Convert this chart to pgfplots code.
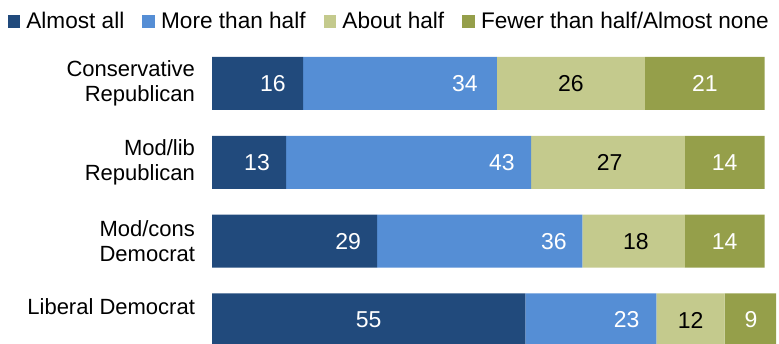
\documentclass[border=0pt]{standalone}
\usepackage{pgfplots}
\pgfplotsset{compat=1.18}
\usepackage{fontspec}
\setmainfont{Liberation Sans}
\definecolor{cNavy}{HTML}{214A7C}
\definecolor{cBlue}{HTML}{558ED5}
\definecolor{cLight}{HTML}{C4CA8D}
\definecolor{cOlive}{HTML}{959F4A}
\begin{document}
\begin{tikzpicture}[font=\fontsize{11}{12.3}\selectfont]
\begin{axis}[
  name=ax,
  scale only axis,
  width=282pt, height=143pt,
  xbar stacked,
  bar width=26.5pt,
  xmin=0, xmax=99,
  ymin=-0.336, ymax=3.292,
  y dir=reverse,
  axis line style={draw=none},
  ytick={0,1,2,3},
  yticklabels={{Conservative\\Republican},{Mod/lib\\Republican},{Mod/cons\\Democrat},{\raisebox{2.5pt}[0pt][0pt]{Liberal Democrat}}},
  yticklabel style={align=right, xshift=-5pt},
  major tick length=0pt,
  tick style={draw=none},
  xtick=\empty,
  legend columns=4,
  legend style={draw=none, fill=none, inner sep=0pt,
    font=\fontsize{11.3}{13}\selectfont,
    at={([xshift=-102.35pt,yshift=17.8pt]axis description cs:0,1)}, anchor=west,
    /tikz/every odd column/.append style={column sep=1.7pt},
    /tikz/every even column/.append style={column sep=7.7pt},
    nodes={inner sep=1.35pt}},
  legend image code/.code={\fill (0pt,-3.15pt) rectangle (6.3pt,3.15pt);},
]
\addplot[fill=cNavy, draw=none] coordinates {(16,0) (13,1) (29,2) (55,3)};
\addplot[fill=cBlue, draw=none] coordinates {(34,0) (43,1) (36,2) (23,3)};
\addplot[fill=cLight, draw=none] coordinates {(26,0) (27,1) (18,2) (12,3)};
\addplot[fill=cOlive, draw=none] coordinates {(21,0) (14,1) (14,2) (9,3)};
\legend{Almost all, More than half, About half, Fewer than half/Almost none}
% label positions
\coordinate (a1) at (axis cs:10.7,0);
\coordinate (a2) at (axis cs:44.4,0);
\coordinate (a3) at (axis cs:63.0,0);
\coordinate (a4) at (axis cs:86.5,0);
\coordinate (b1) at (axis cs:7.9,1);
\coordinate (b2) at (axis cs:50.9,1);
\coordinate (b3) at (axis cs:69.8,1);
\coordinate (b4) at (axis cs:90.0,1);
\coordinate (c1) at (axis cs:23.9,2);
\coordinate (c2) at (axis cs:60.0,2);
\coordinate (c3) at (axis cs:74.4,2);
\coordinate (c4) at (axis cs:90.0,2);
\coordinate (d1) at (axis cs:27.5,3);
\coordinate (d2) at (axis cs:72.8,3);
\coordinate (d3) at (axis cs:84.0,3);
\coordinate (d4) at (axis cs:94.6,3);
\end{axis}
\begin{scope}[every node/.style={font=\fontsize{11.5}{13}\selectfont}]
\node[text=white] at (a1) {16};
\node[text=white] at (a2) {34};
\node[text=black] at (a3) {26};
\node[text=white] at (a4) {21};
\node[text=white] at (b1) {13};
\node[text=white] at (b2) {43};
\node[text=black] at (b3) {27};
\node[text=white] at (b4) {14};
\node[text=white] at (c1) {29};
\node[text=white] at (c2) {36};
\node[text=black] at (c3) {18};
\node[text=white] at (c4) {14};
\node[text=white] at (d1) {55};
\node[text=white] at (d2) {23};
\node[text=black] at (d3) {12};
\node[text=white] at (d4) {9};
\end{scope}
\path ([xshift=-106pt]ax.south west) ([xshift=1.5pt,yshift=28.5pt]ax.north east);
\end{tikzpicture}
\end{document}
